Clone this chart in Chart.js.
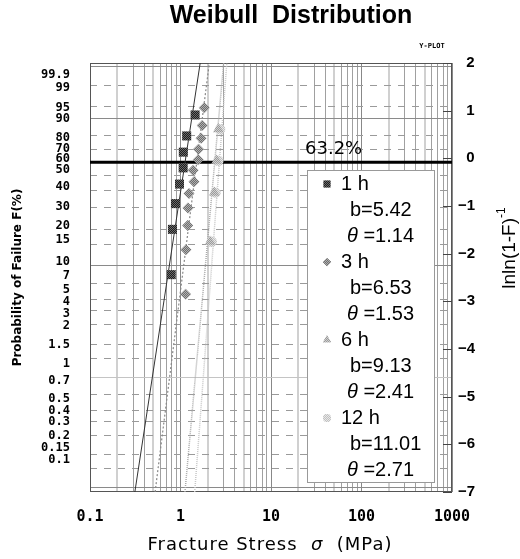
<!DOCTYPE html>
<html>
<head>
<meta charset="utf-8">
<script src="https://cdn.jsdelivr.net/npm/chart.js@4.4.1/dist/chart.umd.min.js"></script>
<style>
  html, body { margin: 0; padding: 0; background: #fff; }
  #wrap { width: 520px; height: 559px; position: relative; }
</style>
</head>
<body>
<div id="wrap"><canvas id="weibullChart"></canvas></div>
<script>
// --- data (x = stress MPa, y = lnln(1/(1-F))) ---
const seriesNames = ['1 h', '3 h', '6 h', '12 h'];
const shapeB = ['5.42', '6.53', '9.13', '11.01'];
const scaleTheta = ['1.14', '1.53', '2.41', '2.71'];

const stress1h = [0.79, 0.815, 0.88, 0.975, 1.07, 1.075, 1.17, 1.45];
const weib1h = [-2.44, -1.49, -0.95, -0.54, -0.20, 0.13, 0.47, 0.91];
const stress3h = [1.14, 1.15, 1.20, 1.21, 1.24, 1.41, 1.38, 1.57, 1.58, 1.69, 1.74, 1.83];
const weib3h = [-2.85, -1.92, -1.41, -1.04, -0.74, -0.49, -0.25, -0.03, 0.19, 0.42, 0.69, 1.06];
const stress6h = [2.12, 2.36, 2.51, 2.62];
const weib6h = [-1.75, -0.72, -0.05, 0.61];
const stress12h = [2.21, 2.44, 2.62, 2.74];
const weib12h = [-1.75, -0.72, -0.05, 0.61];

// fitted lines, end points at the bottom and top of the plot
const fitY = [-7, 2];
const fit1hX = [0.313, 1.65];
const fit3hX = [0.524, 2.08];
const fit6hX = [1.12, 3.0];
const fit12hX = [1.435, 3.25];

// thick reference line
const refLineX = [0.1, 1000];
const refLineY = [-0.08, -0.08];

// axis labels
const xTickLabels = ['0.1', '1', '10', '100', '1000'];
const probLabels = ['99.9','99','95','90','80','70','60','50','40','30','20','15','10','7','5','4','3','2','1.5','1','0.7','0.5','0.4','0.3','0.2','0.15','0.1'];
// where the probability labels sit on the y scale (they are not aligned with their lines in the original)
const probLabelY = [1.75, 1.47, 1.06, 0.82, 0.43, 0.19, -0.02, -0.25, -0.60, -1.02, -1.41, -1.71, -2.17, -2.47, -2.76, -3.02, -3.27, -3.51, -3.91, -4.31, -4.67, -5.05, -5.30, -5.53, -5.82, -6.07, -6.33];
const solidProbs = [99.9, 90, 10, 1, 0.1];
const dashProbs = [99, 95, 80, 70, 60, 50, 40, 30, 20, 15, 7, 5, 4, 3, 2, 1.5, 0.7, 0.5, 0.4, 0.3, 0.2, 0.15];

const weibY = F => Math.log(-Math.log(1 - F / 100));
const pts = (xs, ys) => xs.map((x, i) => ({ x, y: ys[i] }));

function checker(c1, c2) {
    const cv = document.createElement('canvas');
    cv.width = 2; cv.height = 2;
    const g = cv.getContext('2d');
    g.fillStyle = c1; g.fillRect(0, 0, 2, 2);
    g.fillStyle = c2; g.fillRect(0, 0, 1, 1); g.fillRect(1, 1, 1, 1);
    return g.createPattern(cv, 'repeat');
}

const fills = [checker('#1e1e1e', '#6a6a6a'), checker('#6e6e6e', '#b0b0b0'), checker('#9a9a9a', '#d0d0d0'), checker('#c0c0c0', '#e8e8e8')];
const styles = ['rect', 'rectRot', 'triangle', 'circle'];
const radii = [6.4, 5.5, 6.2, 5.2];

// vertical grid: 1..9 per decade
const xGrid = [];
[0.1, 1, 10, 100].forEach(d => { for (let m = 1; m <= 9; m++) xGrid.push({ value: d * m, m }); });
xGrid.push({ value: 1000, m: 1 });

Chart.defaults.font.family = 'Liberation Sans';
Chart.defaults.color = '#000';

// no extra room for edge labels, the plot box is fixed
const noPadV = s => { s.paddingTop = 0; s.paddingBottom = 0; };

const decor = {
    id: 'decor',
    beforeDatasetsDraw(chart) {
        const { ctx, chartArea: a, scales } = chart;
        ctx.save();
        ctx.strokeStyle = '#555';
        ctx.lineWidth = 1;
        ctx.strokeRect(a.left + 0.5, a.top + 0.5, a.width - 1, a.height - 1);
        // short inward ticks on the right edge
        ctx.strokeStyle = '#444';
        scales.y.ticks.forEach(t => {
            const py = Math.round(scales.y.getPixelForValue(t.value)) + 0.5;
            ctx.beginPath();
            ctx.moveTo(a.right - 9, py);
            ctx.lineTo(a.right, py);
            ctx.stroke();
        });
        ctx.restore();
    },
    afterDatasetsDraw(chart) {
        const { ctx, scales } = chart;
        ctx.save();
        // 63.2% label
        ctx.font = '18px "DejaVu Sans"';
        ctx.fillStyle = '#000';
        ctx.textBaseline = 'middle';
        ctx.textAlign = 'left';
        ctx.fillText('63.2%', 305, scales.y.getPixelForValue(refLineY[0]) - 13);

        // legend box
        ctx.fillStyle = '#fff';
        ctx.fillRect(307, 170, 128, 313);
        ctx.strokeStyle = '#999';
        ctx.lineWidth = 1;
        ctx.strokeRect(307.5, 170.5, 127, 312);

        let y = 184;
        const step = 26;
        seriesNames.forEach((name, i) => {
            ctx.fillStyle = fills[i];
            ctx.strokeStyle = 'rgba(0,0,0,0)';
            Chart.helpers.drawPoint(ctx, { pointStyle: styles[i], radius: radii[i] * 0.75, borderWidth: 0, rotation: 0 }, 327, y);
            ctx.fill();
            ctx.fillStyle = '#000';
            ctx.font = '20px "Liberation Sans"';
            ctx.fillText(name, 341, y);
            y += step;
            ctx.fillText('b=' + shapeB[i], 350, y);
            y += step;
            ctx.font = 'italic 20px "Liberation Sans"';
            ctx.fillText('\u03b8', 347, y);
            const tw = ctx.measureText('\u03b8').width;
            ctx.font = '20px "Liberation Sans"';
            ctx.fillText(' =' + scaleTheta[i], 347 + tw, y);
            y += step;
        });
        ctx.restore();
    },
    afterDraw(chart) {
        const { ctx } = chart;
        ctx.save();
        ctx.fillStyle = '#000';
        ctx.textBaseline = 'middle';
        // title
        ctx.textAlign = 'center';
        ctx.font = 'bold 25px "Liberation Sans"';
        ctx.fillText('Weibull  Distribution', 291, 16);
        // Y-PLOT tag
        ctx.font = 'bold 7px "DejaVu Sans Mono"';
        ctx.fillText('Y-PLOT', 432, 46);

        // x title with italic sigma
        ctx.textAlign = 'left';
        ctx.letterSpacing = '1px';
        const p1 = 'Fracture Stress  ', p2 = '\u03c3', p3 = '  (MPa)';
        ctx.font = '18px "DejaVu Sans"';
        const w1 = ctx.measureText(p1).width, w3 = ctx.measureText(p3).width;
        ctx.font = 'italic 18px "DejaVu Sans"';
        const w2 = ctx.measureText(p2).width;
        let x = 270 - (w1 + w2 + w3) / 2;
        ctx.font = '18px "DejaVu Sans"';
        ctx.fillText(p1, x, 545);
        ctx.font = 'italic 18px "DejaVu Sans"';
        ctx.fillText(p2, x + w1, 545);
        ctx.font = '18px "DejaVu Sans"';
        ctx.fillText(p3, x + w1 + w2, 545);
        ctx.letterSpacing = '0px';

        // right title with superscript
        ctx.translate(510, 248);
        ctx.rotate(-Math.PI / 2);
        ctx.font = '19px "Liberation Sans"';
        const m1 = ctx.measureText('lnln(1-F)').width;
        ctx.font = '12px "Liberation Sans"';
        const m2 = ctx.measureText('-1').width;
        ctx.font = '19px "Liberation Sans"';
        ctx.fillText('lnln(1-F)', -(m1 + m2) / 2, 0);
        ctx.font = '12px "Liberation Sans"';
        ctx.fillText('-1', -(m1 + m2) / 2 + m1, -8);
        ctx.restore();
    }
};

const hiddenY = (vals, color, dash) => ({
    type: 'linear', position: 'left', min: -7, max: 2, weight: 0,
    afterBuildTicks: s => { s.ticks = vals.map(v => ({ value: v })); },
    afterFit: s => { s.width = 0; noPadV(s); },
    ticks: { display: false },
    grid: { color, lineWidth: 1, drawTicks: false },
    border: { display: false, dash }
});

new Chart(document.getElementById('weibullChart'), {
    type: 'scatter',
    data: {
        datasets: [
            { data: pts(stress1h, weib1h), pointStyle: styles[0], pointRadius: radii[0], backgroundColor: fills[0], borderWidth: 0, order: 0 },
            { data: pts(stress3h, weib3h), pointStyle: styles[1], pointRadius: radii[1], backgroundColor: fills[1], borderWidth: 0, order: 0 },
            { data: pts(stress6h, weib6h), pointStyle: styles[2], pointRadius: radii[2], backgroundColor: fills[2], borderWidth: 0, order: 0 },
            { data: pts(stress12h, weib12h), pointStyle: styles[3], pointRadius: radii[3], backgroundColor: fills[3], borderWidth: 0, order: 0 },
            { data: pts(fit1hX, fitY), showLine: true, pointRadius: 0, borderColor: '#333', borderWidth: 1, order: 1 },
            { data: pts(fit3hX, fitY), showLine: true, pointRadius: 0, borderColor: '#888', borderWidth: 1.2, borderDash: [2, 2], order: 1 },
            { data: pts(fit6hX, fitY), showLine: true, pointRadius: 0, borderColor: '#aaa', borderWidth: 1.5, borderDash: [1, 1], order: 1 },
            { data: pts(fit12hX, fitY), showLine: true, pointRadius: 0, borderColor: '#c8c8c8', borderWidth: 1.5, borderDash: [1, 1], order: 1 },
            { data: pts(refLineX, refLineY), showLine: true, pointRadius: 0, borderColor: '#000', borderWidth: 3, order: 2 }
        ]
    },
    options: {
        responsive: true,
        maintainAspectRatio: false,
        animation: false,
        events: [],
        layout: { padding: { top: 63, left: 0, right: 0, bottom: 0 } },
        plugins: {
            legend: { display: false },
            tooltip: { enabled: false },
            title: { display: false }
        },
        scales: {
            x: {
                type: 'logarithmic', min: 0.1, max: 1000,
                afterBuildTicks: s => { s.ticks = xGrid.map(t => ({ value: t.value })); },
                afterFit: s => { s.height = 67; s.paddingLeft = 0; s.paddingRight = 0; },
                ticks: {
                    autoSkip: false, maxRotation: 0, padding: 16,
                    font: { family: 'DejaVu Sans Mono', size: 15, weight: 'bold' },
                    callback: (v, i) => xGrid[i].m === 1 ? xTickLabels[Math.round(Math.log10(v)) + 1] : ''
                },
                grid: {
                    drawTicks: false,
                    color: c => { const m = xGrid[c.index] ? xGrid[c.index].m : 1; return m === 1 ? '#888' : (m === 2 || m === 5) ? '#d0d0d0' : '#a0a0a0'; },
                    lineWidth: c => { const m = xGrid[c.index] ? xGrid[c.index].m : 1; return (m === 2 || m === 5) ? 2 : 1; }
                },
                border: { display: false }
            },
            yProb: {
                type: 'linear', position: 'left', min: -7, max: 2, weight: 1,
                afterBuildTicks: s => { s.ticks = probLabelY.map(v => ({ value: v })); },
                afterFit: s => { s.width = 90; noPadV(s); },
                ticks: {
                    autoSkip: false, padding: 20,
                    font: { family: 'DejaVu Sans Mono', size: 12, weight: 'bold' },
                    callback: (v, i) => probLabels[i]
                },
                grid: { display: false, drawTicks: false },
                border: { display: false },
                title: {
                    display: true, text: 'Probability of Failure F(%)',
                    font: { family: 'DejaVu Sans', size: 12, weight: 'bold' },
                    padding: { top: 11, bottom: 0 }
                }
            },
            ySolid: hiddenY(solidProbs.map(weibY), c => (c.tick && Math.abs(c.tick.value - weibY(1)) < 1e-6) ? '#c4c4c4' : '#8a8a8a', []),
            yDash: hiddenY(dashProbs.map(weibY), '#9a9a9a', [7, 7]),
            y: {
                type: 'linear', position: 'right', min: -7, max: 2, weight: 1,
                afterFit: s => { s.width = 68; noPadV(s); },
                ticks: {
                    stepSize: 1, padding: 6, crossAlign: 'near',
                    font: { family: 'Liberation Sans', size: 15, weight: 'bold' },
                    callback: v => v < 0 ? '\u2212' + Math.abs(v) : '\u2007' + v
                },
                grid: { drawOnChartArea: false, drawTicks: false },
                border: { display: false }
            }
        }
    },
    plugins: [decor]
});
</script>
</body>
</html>
